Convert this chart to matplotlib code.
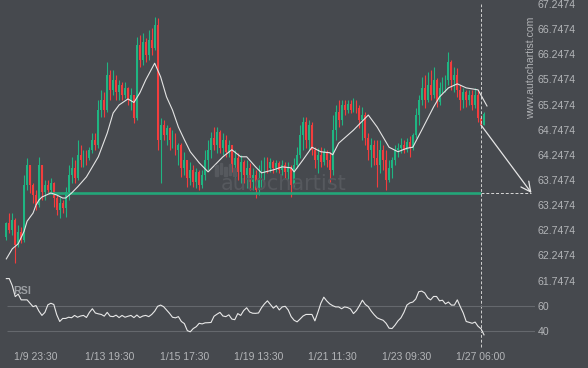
import numpy as np
import matplotlib
matplotlib.use('Agg')
import matplotlib.pyplot as plt
from matplotlib.patches import Rectangle

# ---------------- data ----------------
close = [62.89, 62.75, 62.95, 62.46, 62.72, 62.56, 63.65, 64.05, 63.65, 63.45,
         63.25, 64.05, 63.51, 63.65, 63.55, 63.69, 63.39, 63.15, 63.29, 63.19,
         63.51, 63.85, 63.99, 63.79, 64.25, 64.15, 64.25, 64.19, 64.35, 64.54,
         64.44, 65.14, 65.34, 65.14, 65.84, 65.54, 65.74, 65.50, 65.64, 65.44,
         65.58, 65.34, 65.44, 64.98, 66.43, 66.13, 66.49, 66.23, 66.53, 66.37,
         66.83, 64.54, 64.84, 64.64, 64.78, 64.54, 64.64, 64.35, 64.44, 63.99,
         64.15, 63.79, 63.95, 63.71, 63.91, 63.65, 63.85, 64.15, 64.35, 64.58,
         64.44, 64.70, 64.38, 64.54, 64.31, 64.44, 64.05, 64.19, 63.91, 64.11,
         63.85, 63.99, 63.71, 63.85, 63.55, 63.79, 63.99, 64.15, 63.99, 64.11,
         63.99, 64.09, 63.95, 64.05, 63.91, 63.99, 63.65, 64.05, 64.25, 64.64,
         64.90, 64.54, 64.84, 64.35, 64.15, 64.25, 64.11, 64.31, 64.15, 63.95,
         64.74, 65.10, 64.94, 65.24, 65.14, 65.26, 65.14, 65.28, 65.18, 64.94,
         65.04, 64.58, 64.35, 64.44, 64.19, 64.05, 64.35, 64.15, 63.75, 63.99,
         64.15, 64.35, 64.38, 64.44, 64.35, 64.50, 64.38, 64.64, 65.04, 65.34,
         65.58, 65.34, 65.64, 65.44, 65.74, 65.30, 65.58, 65.64, 65.74, 66.09,
         65.74, 65.84, 65.54, 65.34, 65.50, 65.34, 65.44, 65.24, 65.44, 64.98,
         64.84, 65.06]
high = [62.91, 63.09, 63.09, 62.99, 62.86, 62.81, 63.85, 64.19, 63.91, 63.69,
        63.55, 64.21, 64.01, 63.75, 63.75, 63.79, 63.71, 63.45, 63.41, 63.35,
        63.61, 64.05, 64.21, 64.15, 64.54, 64.44, 64.35, 64.35, 64.40, 64.68,
        64.68, 65.34, 65.54, 65.50, 66.09, 65.94, 65.94, 65.84, 65.74, 65.70,
        65.70, 65.60, 65.58, 65.44, 66.59, 66.63, 66.67, 66.57, 66.73, 66.77,
        66.99, 66.97, 64.98, 64.94, 64.84, 64.80, 64.74, 64.68, 64.48, 64.48,
        64.31, 64.15, 64.11, 64.05, 63.99, 63.95, 63.95, 64.35, 64.54, 64.70,
        64.80, 64.80, 64.74, 64.68, 64.64, 64.54, 64.40, 64.35, 64.29, 64.25,
        64.15, 64.15, 64.09, 63.99, 63.95, 64.05, 64.15, 64.21, 64.21, 64.19,
        64.15, 64.15, 64.13, 64.15, 64.11, 64.11, 64.05, 64.19, 64.40, 64.84,
        65.00, 65.00, 64.94, 64.90, 64.40, 64.38, 64.40, 64.38, 64.35, 64.31,
        65.04, 65.24, 65.34, 65.34, 65.34, 65.34, 65.34, 65.38, 65.34, 65.24,
        65.20, 65.10, 64.68, 64.58, 64.54, 64.54, 64.54, 64.44, 64.35, 64.15,
        64.21, 64.44, 64.48, 64.58, 64.54, 64.58, 64.62, 64.68, 65.18, 65.44,
        65.80, 65.84, 65.90, 65.94, 66.00, 65.78, 65.70, 65.80, 65.84, 66.29,
        66.13, 66.00, 65.98, 65.64, 65.58, 65.54, 65.54, 65.54, 65.58, 65.54,
        65.04, 65.10]
low = [62.56, 62.69, 62.66, 62.10, 62.42, 62.50, 62.52, 63.55, 63.49, 63.29,
       63.15, 63.21, 63.35, 63.35, 63.49, 63.51, 63.21, 63.05, 62.99, 63.09,
       63.01, 63.35, 63.69, 63.69, 63.75, 64.01, 64.01, 64.05, 64.15, 64.29,
       64.35, 64.38, 65.00, 65.00, 65.10, 65.34, 65.44, 65.34, 65.34, 65.34,
       65.38, 65.24, 65.14, 64.88, 64.94, 65.99, 66.03, 66.09, 66.13, 66.23,
       66.33, 64.35, 63.69, 64.54, 64.44, 64.35, 64.38, 64.25, 64.05, 63.81,
       63.85, 63.61, 63.65, 63.61, 63.59, 63.55, 63.59, 63.75, 63.95, 64.19,
       64.35, 64.29, 64.29, 64.25, 64.21, 64.21, 63.91, 63.81, 63.75, 63.69,
       63.69, 63.59, 63.55, 63.55, 63.39, 63.45, 63.61, 63.75, 63.89, 63.91,
       63.89, 63.91, 63.89, 63.85, 63.79, 63.75, 63.41, 63.59, 63.99, 64.19,
       64.35, 64.38, 64.35, 64.25, 63.99, 63.89, 64.01, 64.05, 64.01, 63.69,
       63.85, 64.54, 64.80, 64.84, 65.04, 65.08, 65.08, 65.10, 65.08, 64.78,
       64.54, 64.44, 64.15, 64.01, 64.05, 63.61, 63.89, 63.95, 63.55, 63.71,
       63.79, 64.05, 64.21, 64.29, 64.29, 64.31, 64.21, 64.35, 64.58, 64.84,
       65.24, 65.18, 65.30, 65.34, 65.38, 65.20, 65.24, 65.48, 65.50, 65.64,
       65.54, 65.50, 65.40, 65.14, 65.18, 65.20, 65.24, 65.14, 65.18, 64.90,
       64.80, 64.84]
first_open = 62.62

ma_bars = [0, 2, 4, 6, 7, 9, 10, 11, 12, 15, 17, 19, 20, 22, 24, 27, 31, 34, 36,
           38, 41, 43, 45, 47, 50, 52, 54, 56, 58, 60, 62, 65, 68, 71, 73, 76,
           79, 81, 84, 86, 90, 93, 96, 97, 100, 103, 106, 109, 110, 112, 117,
           122, 125, 129, 132, 135, 137, 140, 144, 146, 149, 152, 155, 159, 162]
ma_values = [62.18, 62.38, 62.48, 62.73, 62.93, 63.09, 63.25, 63.35, 63.41, 63.49,
             63.45, 63.39, 63.39, 63.49, 63.61, 63.81, 64.21, 64.68, 65.08, 65.24,
             65.36, 65.29, 65.48, 65.74, 66.07, 65.80, 65.40, 65.14, 64.80, 64.55,
             64.31, 64.09, 63.91, 64.09, 64.21, 64.35, 64.21, 64.21, 64.01, 63.89,
             63.95, 64.01, 63.99, 63.91, 64.15, 64.40, 64.31, 64.29, 64.25, 64.48,
             64.74, 65.04, 64.80, 64.40, 64.31, 64.38, 64.40, 64.74, 65.20, 65.40,
             65.58, 65.66, 65.58, 65.54, 65.22]

rsi = [82.8, 82.8, 77.0, 68.0, 70.0, 65.3, 65.3, 65.3, 62.5, 59.7,
       60.6, 56.0, 52.5, 55.0, 61.2, 62.5, 61.5, 53.0, 47.5, 50.0,
       50.0, 51.0, 50.6, 52.5, 51.0, 52.0, 52.5, 50.8, 55.0, 58.0,
       54.5, 53.8, 53.3, 51.9, 55.0, 51.8, 51.5, 52.7, 50.7, 52.5,
       51.0, 51.8, 52.5, 50.7, 52.8, 50.7, 52.0, 52.5, 51.5, 53.3,
       56.0, 60.0, 61.0, 59.7, 57.0, 54.2, 51.0, 50.5, 51.5, 47.5,
       45.8, 40.0, 39.0, 41.7, 43.2, 46.0, 45.5, 46.4, 46.5, 46.7,
       51.8, 53.5, 55.0, 52.0, 51.5, 53.0, 49.5, 49.0, 54.0, 52.5,
       56.5, 58.8, 55.3, 54.3, 54.2, 54.5, 58.8, 62.0, 64.5, 61.5,
       58.5, 60.5, 57.0, 59.5, 60.0, 57.0, 51.5, 48.5, 47.2, 49.5,
       52.0, 53.3, 53.3, 53.3, 48.0, 55.0, 62.5, 67.5, 64.4, 62.0,
       60.5, 59.5, 59.5, 58.0, 59.5, 59.0, 57.8, 54.0, 56.5, 60.5,
       65.0, 61.5, 59.7, 56.0, 53.0, 50.5, 49.4, 48.5, 46.0, 42.0,
       41.7, 44.5, 48.0, 50.5, 55.0, 61.0, 62.8, 63.5, 66.0, 72.0,
       72.5, 71.0, 67.0, 65.3, 68.1, 68.1, 64.5, 65.0, 62.0, 63.5,
       61.0, 61.0, 65.3, 59.7, 54.5, 47.5, 46.8, 46.0, 47.0, 43.5,
       41.5, 36.5]

level = 63.49
level_start_bar = 14
now_bar = 160
target_bar = 177
date_bars = [10, 35, 60, 85, 110, 135, 160]
date_labels = ['1/9 23:30', '1/13 19:30', '1/15 17:30', '1/19 13:30',
               '1/21 11:30', '1/23 09:30', '1/27 06:00']
price_ticks = [61.7474, 62.2474, 62.7474, 63.2474, 63.7474, 64.2474,
               64.7474, 65.2474, 65.7474, 66.2474, 66.7474, 67.2474]
rsi_ticks = [40, 60]

# ---------------- styling / layout ----------------
W, H = 588, 368
BG = '#46494e'
GREEN = '#1fb582'
RED = '#f23d3d'
TXT = '#b3b5b8'
FONT = 'Liberation Sans'

fig = plt.figure(figsize=(W / 100, H / 100), dpi=100)
fig.patch.set_facecolor(BG)

R_px, B_px = 535, 348            # plot region right edge / bottom edge in pixels
px_bar, x0_px = 2.967, 6.33       # horizontal scale
px_price, top_price = 50.3, 67.2474 + 4 / 50.3
px_rsi, rsi60_px = 1.215, 306.3

ax = fig.add_axes([0, 1 - B_px / H, R_px / W, B_px / H])
ax.set_facecolor('none')
xlo = -x0_px / px_bar
xhi = (R_px - x0_px) / px_bar
ax.set_xlim(xlo, xhi)
ax.set_ylim(top_price - B_px / px_price, top_price)

ax2 = fig.add_axes([0, 1 - B_px / H, R_px / W, B_px / H], sharex=ax)
ax2.set_facecolor('none')
ax2.set_ylim(60 - (B_px - rsi60_px) / px_rsi, 60 + rsi60_px / px_rsi)

for a in (ax, ax2):
    for s in a.spines.values():
        s.set_visible(False)
    a.yaxis.tick_right()
    a.tick_params(axis='y', length=0, pad=2, labelsize=7.6, labelcolor=TXT)

ax.set_yticks(price_ticks)
ax.set_yticklabels(['%.4f' % v for v in price_ticks], fontfamily=FONT)
ax2.set_yticks(rsi_ticks)
ax2.set_yticklabels([str(v) for v in rsi_ticks], fontfamily=FONT)

ax.set_xticks(date_bars)
ax.set_xticklabels(date_labels, fontfamily=FONT)
ax.tick_params(axis='x', length=0, pad=3, labelsize=7.5, labelcolor=TXT)
ax2.tick_params(axis='x', bottom=False, labelbottom=False)

# ---------------- candles ----------------
c = np.array(close)
o = np.array([first_open] + close[:-1])
hi = np.maximum(np.array(high), np.maximum(o, c))
lo = np.minimum(np.array(low), np.minimum(o, c))
xs = np.arange(len(c))
up = c >= o
cols = np.where(up, GREEN, RED)
ax.vlines(xs, lo, hi, colors=cols, lw=0.8, zorder=2)
body_h = np.maximum(np.abs(c - o), 0.012)
ax.bar(xs, body_h, bottom=np.minimum(o, c), width=0.62, color=cols,
       linewidth=0, zorder=2)

# level line + projection
ax.hlines(level, level_start_bar, now_bar, colors='#23a679', lw=1.9, zorder=3)
ax.hlines(level, now_bar, target_bar, colors='#d8d8d8', lw=0.7,
          linestyles=(0, (3, 2)), zorder=3)
ax.axvline(now_bar, ymin=1 - 347 / B_px, ymax=1 - 4 / B_px, color='#d0d0d0',
           lw=0.7, linestyle=(0, (3, 2)), zorder=3)
ax.annotate('', xy=(target_bar, level), xytext=(now_bar, c[now_bar]),
            arrowprops=dict(arrowstyle='->,head_length=0.7,head_width=0.35',
                            color='#e6e6e6', lw=0.9, shrinkA=0, shrinkB=0),
            zorder=4)

# moving average
ax.plot(ma_bars, ma_values, color='#e4e4e4', lw=0.8, zorder=4)

# ---------------- RSI ----------------
ax2.hlines(rsi_ticks, 0.2, xhi, colors='#65686d', lw=0.8, zorder=1)
ax2.text(2.3, 72.6, 'RSI', fontfamily=FONT, fontweight='bold', fontsize=7.7,
         color='#9b9ea2', ha='left', va='center', zorder=1)
ax2.plot(np.arange(len(rsi)), rsi, color='#e8e8e8', lw=0.8, zorder=2)

# ---------------- watermarks ----------------
fig.text(284 / W, 1 - 184 / H, 'autochartist', fontfamily='DejaVu Sans',
         fontsize=15, color='#56595e', ha='center', va='center', zorder=0)
for bx, by0, by1 in [(215, 176, 165), (219.5, 174, 163), (224, 176, 167),
                     (228.5, 175, 164), (233, 176, 168)]:
    fig.patches.append(Rectangle((bx / W, 1 - by0 / H), 2.6 / W, (by0 - by1) / H,
                                 transform=fig.transFigure, color='#56595e',
                                 zorder=0))
fig.text(531 / W, 1 - 68 / H, 'www.autochartist.com', fontfamily=FONT,
         fontsize=7.6, color='#aeb0b3', rotation=90, ha='center', va='center')

fig.savefig('out.png', dpi=100, facecolor=BG)
